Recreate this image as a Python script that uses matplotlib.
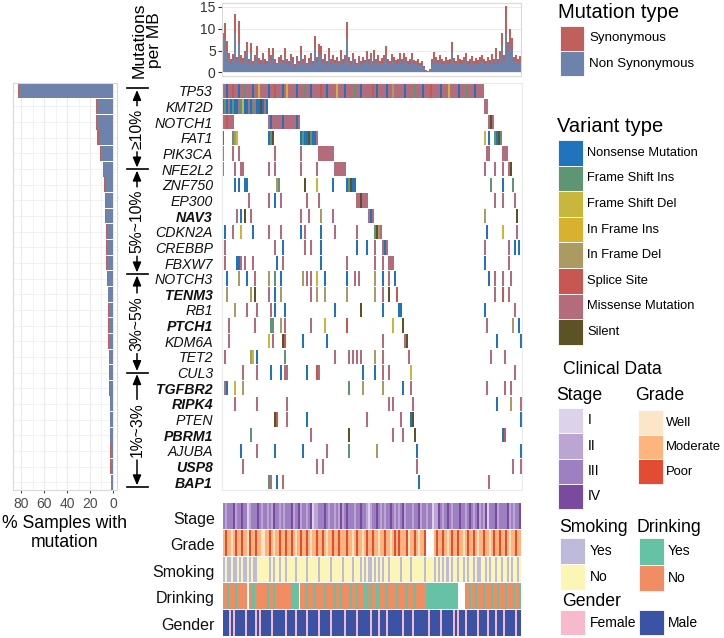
import numpy as np
import matplotlib
matplotlib.use("Agg")
import matplotlib.pyplot as plt
from matplotlib.patches import Rectangle

plt.rcParams['font.family'] = ['Liberation Sans', 'DejaVu Sans']

# ---------------- data ----------------
genes = ["TP53", "KMT2D", "NOTCH1", "FAT1", "PIK3CA", "NFE2L2", "ZNF750", "EP300",
         "NAV3", "CDKN2A", "CREBBP", "FBXW7", "NOTCH3", "TENM3", "RB1", "PTCH1",
         "KDM6A", "TET2", "CUL3", "TGFBR2", "RIPK4", "PTEN", "PBRM1", "AJUBA",
         "USP8", "BAP1"]
bold_genes = ["NAV3", "TENM3", "PTCH1", "TGFBR2", "RIPK4", "PBRM1", "USP8", "BAP1"]

variant_names = ["Nonsense Mutation", "Frame Shift Ins", "Frame Shift Del", "In Frame Ins",
                 "In Frame Del", "Splice Site", "Missense Mutation", "Silent"]
variant_codes = ["N", "I", "D", "i", "d", "S", "M", "L"]
variant_colors = ["#1F74BD", "#5E9675", "#C9B73C", "#D8B12E",
                  "#AB9A62", "#C65751", "#B46B7C", "#5D5126"]

tp53_types = ("MMNMMSMMNM" "MIMMMNMMDM" "MMMNMMSMMM" "NMiMMMMNMM" "MIMMNMMMMS"
              "MMNMMMMDMM" "MNMMMMIMMN" "MMMMMSMNMM" "MMNMMdMMMM" "MNMMMMIMMM"
              "NMMMSMMMMN" "MMMDMMMMNM" "MMIMMMNMMM" "M")

# per gene: (first sample index, variant codes of consecutive samples)
mutations = {
    "TP53": [(0, tp53_types)],
    "KMT2D": [(0, "NINMNINNMIDNNMNIMNNLNMN"), (131, "MM")],
    "NOTCH1": [(0, "MMSMMM"), (23, "MNMMMMMNMMMMMMNM"), (133, "MLM")],
    "FAT1": [(0, "N"), (5, "IdD"), (23, "NIL"), (39, "NINNLINNM"), (131, "D"), (133, "N"), (136, "INLI")],
    "PIK3CA": [(0, "M"), (5, "M"), (8, "M"), (26, "M"), (39, "M"), (48, "MMMMMMMM"), (132, "MM"), (140, "MMM")],
    "NFE2L2": [(0, "M"), (6, "M"), (9, "MM"), (23, "M"), (26, "M"), (39, "M"), (47, "M"), (56, "MMMMMM"),
               (131, "M"), (136, "M"), (140, "M"), (143, "ML")],
    "ZNF750": [(6, "N"), (8, "N"), (11, "NN"), (27, "dI"), (41, "L"), (47, "D"), (55, "N"), (62, "NILNN"),
               (134, "I"), (140, "N"), (145, "I")],
    "EP300": [(13, "M"), (23, "M"), (26, "N"), (29, "M"), (42, "M"), (48, "M"), (67, "MMLMMM"),
              (136, "M"), (140, "M"), (146, "M")],
    "NAV3": [(7, "M"), (9, "N"), (11, "L"), (14, "M"), (39, "M"), (43, "M"), (49, "d"), (55, "M"),
             (73, "MNM"), (131, "d"), (147, "L")],
    "CDKN2A": [(1, "N"), (5, "M"), (9, "D"), (15, "N"), (23, "M"), (29, "M"), (39, "N"), (41, "M"),
               (49, "N"), (56, "M"), (67, "M"), (76, "ILdM"), (132, "N"), (140, "i"), (147, "M")],
    "CREBBP": [(1, "M"), (26, "M"), (30, "N"), (41, "M"), (44, "M"), (49, "N"), (67, "N"), (72, "N"),
               (76, "M"), (80, "MNM"), (131, "M"), (143, "M"), (146, "N"), (148, "N")],
    "FBXW7": [(1, "M"), (7, "NN"), (9, "M"), (11, "M"), (15, "M"), (27, "N"), (30, "M"), (49, "N"),
              (62, "M"), (76, "M"), (80, "M"), (83, "MMM"), (131, "N"), (143, "M")],
    "NOTCH3": [(2, "N"), (8, "d"), (12, "N"), (16, "M"), (23, "d"), (26, "I"), (29, "N"), (40, "d"),
               (42, "M"), (44, "M"), (47, "D"), (51, "N"), (62, "N"), (66, "M"), (68, "M"), (76, "d"),
               (80, "N"), (83, "M"), (86, "N"), (133, "N"), (136, "M"), (140, "M"), (144, "M")],
    "TENM3": [(2, "d"), (14, "d"), (16, "L"), (23, "M"), (26, "N"), (29, "d"), (44, "M"), (47, "d"),
              (51, "d"), (62, "d"), (76, "d"), (80, "M"), (83, "L"), (87, "S"), (136, "M"), (140, "S"),
              (143, "M")],
    "RB1": [(6, "d"), (12, "M"), (17, "M"), (24, "M"), (26, "N"), (31, "N"), (56, "N"), (69, "L"),
            (80, "N"), (88, "NN"), (131, "N"), (146, "M")],
    "PTCH1": [(3, "M"), (16, "M"), (24, "II"), (29, "d"), (31, "M"), (44, "M"), (51, "D"), (62, "S"),
              (85, "D"), (90, "L"), (132, "M"), (145, "d"), (148, "N")],
    "KDM6A": [(3, "M"), (23, "D"), (25, "M"), (30, "LS"), (40, "N"), (52, "N"), (80, "M"), (91, "ML"),
              (137, "N"), (149, "N")],
    "TET2": [(1, "M"), (14, "dD"), (17, "N"), (31, "I"), (56, "M"), (63, "M"), (65, "M"), (67, "M"),
             (69, "M"), (76, "d"), (80, "M"), (93, "M"), (134, "M"), (141, "M")],
    "CUL3": [(10, "M"), (17, "M"), (24, "N"), (29, "N"), (31, "MM"), (42, "N"), (47, "SM"), (70, "N"),
             (76, "N"), (80, "M"), (83, "M"), (94, "D"), (146, "M")],
    "TGFBR2": [(1, "M"), (2, "N"), (6, "D"), (10, "d"), (63, "I"), (70, "d"), (80, "d"), (90, "N"),
               (94, "M"), (132, "M"), (141, "M"), (144, "M")],
    "RIPK4": [(6, "M"), (17, "M"), (32, "M"), (83, "M"), (85, "M"), (95, "M"), (137, "N"), (144, "d"),
              (149, "M")],
    "PTEN": [(26, "LS"), (32, "M"), (42, "N"), (72, "M"), (89, "M"), (94, "NL"), (149, "N")],
    "PBRM1": [(14, "I"), (44, "M"), (63, "L"), (85, "M"), (90, "M"), (96, "L"), (140, "NS")],
    "AJUBA": [(9, "N"), (17, "M"), (26, "N"), (40, "N"), (52, "M"), (63, "I"), (77, "d"), (97, "N"),
              (149, "N")],
    "USP8": [(10, "M"), (47, "M"), (50, "M"), (97, "M"), (145, "M"), (149, "M")],
    "BAP1": [(23, "I"), (24, "M"), (27, "N"), (30, "M"), (98, "N"), (133, "M")],
}

# mutations per MB per sample (stacked: non synonymous below, synonymous above)
tmb_nonsyn = [8.8, 7.6, 4.8, 3.0, 2.0, 2.8, 9.0, 2.3, 6.5, 2.7,
              2.1, 3.2, 4.6, 2.0, 4.4, 1.7, 2.6, 3.9, 2.1, 1.9,
              3.0, 2.0, 1.7, 3.6, 2.6, 3.7, 2.0, 1.5, 2.3, 2.6,
              1.9, 3.6, 2.0, 1.7, 2.8, 2.3, 1.3, 2.5, 1.7, 4.0,
              2.0, 2.6, 1.5, 2.1, 3.0, 1.7, 5.5, 2.3, 4.3, 3.9,
              2.0, 2.8, 1.7, 3.6, 2.0, 2.6, 1.9, 2.3, 1.7, 3.4,
              2.0, 2.6, 7.6, 2.3, 1.7, 3.0, 2.0, 1.5, 2.5, 1.7,
              2.3, 1.9, 3.3, 2.0, 3.0, 1.7, 3.4, 2.0, 2.6, 1.7,
              2.1, 2.6, 4.0, 2.0, 1.7, 2.8, 2.3, 1.9, 2.0, 3.0,
              2.0, 3.0, 2.3, 1.7, 2.0, 3.0, 1.9, 1.7, 2.0, 1.5,
              1.7, 1.0, 0.4, 0.3, 0.5, 2.0, 3.1, 2.3, 1.9, 2.6,
              2.0, 1.7, 2.3, 1.9, 2.0, 4.6, 2.1, 1.7, 2.6, 2.0,
              1.9, 2.3, 3.0, 1.7, 2.0, 2.5, 1.7, 2.1, 1.9, 2.3,
              2.6, 2.0, 1.7, 2.3, 1.9, 2.8, 2.0, 3.6, 2.0, 3.3,
              6.0, 2.6, 9.0, 4.6, 6.6, 5.1, 2.3, 2.6, 2.0, 2.5]
tmb_syn = [0.2, 3.7, 2.4, 1.5, 1.0, 1.4, 4.3, 1.2, 5.2, 1.3,
           1.1, 1.6, 2.4, 1.0, 2.4, 0.8, 1.4, 2.1, 1.1, 0.9,
           1.5, 1.0, 0.8, 1.9, 1.4, 1.9, 1.0, 0.7, 1.2, 1.4,
           0.9, 1.9, 1.0, 0.8, 1.4, 1.2, 0.7, 1.3, 0.8, 2.0,
           1.0, 1.4, 0.7, 1.1, 1.5, 0.8, 2.8, 1.2, 2.2, 2.1,
           1.0, 1.4, 0.8, 1.9, 1.0, 1.4, 0.9, 1.2, 0.8, 1.8,
           1.0, 1.4, 3.9, 1.2, 0.8, 1.5, 1.0, 0.7, 1.3, 0.8,
           1.2, 0.9, 1.7, 1.0, 1.5, 0.8, 1.8, 1.0, 1.4, 0.8,
           1.1, 1.4, 2.0, 1.0, 0.8, 1.4, 1.2, 0.9, 1.0, 1.5,
           1.0, 1.5, 1.2, 0.8, 1.0, 1.5, 0.9, 0.8, 1.0, 0.7,
           0.8, 0.5, 0.2, 0.1, 0.3, 1.0, 1.6, 1.2, 0.9, 1.4,
           1.0, 0.8, 1.2, 0.9, 1.0, 2.4, 1.1, 0.8, 1.4, 1.0,
           0.9, 1.2, 1.5, 0.8, 1.0, 1.3, 0.8, 1.1, 0.9, 1.2,
           1.4, 1.0, 0.8, 1.2, 0.9, 1.4, 1.0, 1.9, 1.0, 1.7,
           3.0, 1.4, 6.2, 2.4, 3.4, 2.7, 1.2, 1.4, 1.0, 1.3]

# % samples with mutation per gene
pct_nonsyn = [81.5, 13.5, 13.5, 12.5, 10.0, 8.0, 6.5, 6.0, 6.0, 5.5, 5.5, 5.0, 4.2,
              4.0, 3.8, 3.6, 3.4, 3.2, 3.0, 2.6, 2.4, 2.3, 2.2, 2.0, 1.8, 1.6]
pct_syn = [1.1, 1.5, 1.5, 1.5, 1.2, 1.0, 1.0, 1.0, 0.8, 0.8, 0.8, 0.7, 0.7,
           0.6, 0.6, 0.6, 0.5, 0.5, 0.5, 0.5, 0.5, 0.4, 0.4, 0.4, 0.4, 0.4]

mut_type_names = ["Synonymous", "Non Synonymous"]
mut_type_colors = ["#C1605B", "#6E83AC"]

stage = ("3233342334" "3312333432" "3323243323" "2333423342" "3323412233"
         "3432332324" "2343332334" "3321233432" "3233432323" "4233323342"
         "3323312243" "2334323334" "3323432342" "3241333423" "3334232334")
grade = ("MPMMWMPMMP" "MMWPMMPMMW" "WMMPMWMMPM" "MPMMPMWMMP" "MMPMWMMPMM"
         "PMWMMPMMPM" "MMPMMWMPMM" "WMPMMPMMWM" "MPMMWMPMPM" "MMPWMMPMWM"
         "MP....MPMM" "PMMWMPMMPM" "MWMPMMPMWM" "MPMMWMPMMP" "MMPMWMMPMM")
smoking = ("YNYYNYYNYN" "YYNYNYYNNN" "NNNYNYNNYN" "NYNNNNYNNN" "NNYNNNNNYN"
           "NNNNYNNNNN" "YNNNNYNNNY" "NYNYYNYNYN" "YNNYNNNNNY" "NNNNYNNNNN"
           "NYNNNNYNYN" "YNYYNYNNYN" "NYNYNNYNYY" "NNYNYNNYNN" "YNNYNYNNYN")
drinking = ("NNYNNNYNNN" "NN.NYYNNNN" "NNYNNYNNNN" "NNNNYYYY.N" "NNYNNNYNNN"
            "NYNNNNYNNY" "NNNNYNNYNN" "NYYNYNNYYN" "NNYNNNNYNN" "NNYNNNYNNN"
            "NNYYYYYYYY" "YYYYYYYY.." "..NNYNNYNN" "NYNNNYNNYN" "NNYNNNYNNY")
gender = ("MMMFMFMMMM" "MFMMMMFMFM" "MMMMFMMMMM" "MFMMMMFMMM" "MMFMMMMMFM"
          "MMMMFMMMMM" "MFMMMMMFMM" "MMMMFMMMFM" "MMFMMMMMMM" "FMMMMFMMMM"
          "MMMFMMMMMF" "MMMMMMFMFM" "MMFMMMMMFM" "MMMFMMMFMM" "MFMMMMMFMM")

clin_names = ["Stage", "Grade", "Smoking", "Drinking", "Gender"]
stage_levels = ["I", "II", "III", "IV"]
stage_colors = {"1": "#DCD2E9", "2": "#BBA5D2", "3": "#9D80C1", "4": "#7A4A9F"}
grade_levels = ["Well", "Moderate", "Poor"]
grade_colors = {"W": "#FDE5C7", "M": "#FDB47D", "P": "#E44B33"}
smoking_colors = {"Y": "#BEBBDA", "N": "#FBF6B5"}
drinking_colors = {"Y": "#66C2A5", "N": "#F28D63"}
gender_colors = {"F": "#F7B9CC", "M": "#3A53A4"}

group_labels = ["\u226510%", "5%~10%", "3%~5%", "1%~3%"]
group_bounds = [0.35, 5.5, 12.2, 18.5, 25.8]   # in gene-row units

# ---------------- figure ----------------
W, H = 724, 638
fig = plt.figure(figsize=(W / 100, H / 100), dpi=100)


def px_axes(x0, y0, x1, y1):
    return fig.add_axes([x0 / W, 1 - y1 / H, (x1 - x0) / W, (y1 - y0) / H])


ov = px_axes(0, 0, W, H)
ov.set_xlim(0, W)
ov.set_ylim(H, 0)
ov.axis('off')

nS = len(tmb_nonsyn)
ng = len(genes)
vcol = dict(zip(variant_codes, variant_colors))
grid_c = "#EBEBEB"
frame_c = "#D9D9D9"
tick_c = "#333333"

# ---- top: mutations per MB ----
axt = px_axes(222, 3, 521, 76)
xs = np.arange(nS)
axt.bar(xs, tmb_nonsyn, width=1.0, align='edge', color=mut_type_colors[1], lw=0, zorder=2)
axt.bar(xs, tmb_syn, bottom=tmb_nonsyn, width=1.0, align='edge', color=mut_type_colors[0], lw=0, zorder=2)
axt.set_xlim(0, nS)
axt.set_ylim(-0.85, 15.9)
axt.set_yticks([0, 5, 10, 15])
axt.set_xticks([])
axt.grid(axis='y', color=grid_c, lw=0.8, zorder=0)
axt.tick_params(axis='y', labelsize=10, colors=tick_c, length=3, pad=1.5, width=0.8)
for sp in axt.spines.values():
    sp.set_color(frame_c)
    sp.set_linewidth(0.8)

# ---- oncoprint matrix ----
axm = px_axes(222, 83, 522, 490)
mx, my, mc = [], [], []
for r, g in enumerate(genes):
    for start, codes in mutations[g]:
        for k, ch in enumerate(codes):
            mx.append(start + k + 0.07)
            my.append(r + 0.04)
            mc.append(vcol[ch])
axm.bar(mx, 0.92, width=0.86, bottom=my, align='edge', color=mc, lw=0)
axm.set_xlim(0, nS)
axm.set_ylim(ng, 0)
axm.set_xticks([])
axm.set_yticks(np.arange(ng) + 0.5)
axm.set_yticklabels(genes)
for lab in axm.get_yticklabels():
    lab.set_fontstyle('italic')
    lab.set_fontsize(10.2)
    if lab.get_text() in bold_genes:
        lab.set_fontweight('bold')
axm.tick_params(axis='y', length=0, pad=6.5, colors='#111111')
for sp in axm.spines.values():
    sp.set_color(grid_c)
    sp.set_linewidth(0.8)

# ---- left: % samples with mutation ----
axl = px_axes(13, 83, 117, 490)
yrow = np.arange(ng) + 0.5
axl.barh(yrow, pct_nonsyn, height=0.95, color=mut_type_colors[1], lw=0, zorder=2)
axl.barh(yrow, pct_syn, left=pct_nonsyn, height=0.95, color=mut_type_colors[0], lw=0, zorder=2)
axl.set_xlim(87, -3.5)
axl.set_ylim(ng, 0)
axl.set_xticks([80, 60, 40, 20, 0])
axl.set_xticks([70, 50, 30, 10], minor=True)
axl.set_yticks(yrow)
axl.set_yticklabels([])
axl.tick_params(axis='y', length=0)
axl.tick_params(axis='x', which='major', labelsize=10, colors='#4D4D4D', length=2, pad=3)
axl.tick_params(axis='x', which='minor', length=0)
axl.grid(axis='x', which='major', color=grid_c, lw=0.8, zorder=0)
axl.grid(axis='x', which='minor', color=grid_c, lw=0.4, zorder=0)
axl.grid(axis='y', color=grid_c, lw=0.5, zorder=0)
for sp in axl.spines.values():
    sp.set_color(frame_c)
    sp.set_linewidth(0.8)

# ---- clinical tracks ----
axc = px_axes(223, 503, 521, 636)
clin_tracks = [(stage, stage_colors), (grade, grade_colors), (smoking, smoking_colors),
               (drinking, drinking_colors), (gender, gender_colors)]
for t, (vals, cmap) in enumerate(clin_tracks):
    cx = [i for i, v in enumerate(vals) if v in cmap]
    cc = [cmap[vals[i]] for i in cx]
    axc.bar(cx, 0.97, width=1.06, bottom=t + 0.015, align='edge', color=cc, lw=0)
axc.set_xlim(0, nS)
axc.set_ylim(len(clin_tracks), 0)
axc.set_xticks([])
axc.set_yticks(np.arange(len(clin_tracks)) + 0.55)
axc.set_yticklabels(clin_names, fontsize=11.5)
axc.tick_params(axis='y', length=0, pad=6, colors='#111111')
for sp in axc.spines.values():
    sp.set_visible(False)

# ---- overlay annotations ----
ov.text(147, 40, "Mutations\nper MB", rotation=90, ha='center', va='center',
        fontsize=12.5, linespacing=1.05, multialignment='center')
ov.text(65, 533, "% Samples with\nmutation", ha='center', va='center', fontsize=12.7,
        linespacing=1.15, multialignment='center')


def row_px(r):
    return 83 + r * 407 / ng


bpx = [row_px(b) for b in group_bounds]
for y in bpx:
    ov.plot([127, 148], [y, y], color='black', lw=1.2)
gtexts = []
for i, lab in enumerate(group_labels):
    yc = (bpx[i] + bpx[i + 1]) / 2
    gtexts.append((ov.text(137, yc, lab, rotation=90, ha='center', va='center', fontsize=11.3), i, yc))
fig.canvas.draw()
inv = ov.transData.inverted()
for t, i, yc in gtexts:
    bb = t.get_window_extent()
    (_, ya), (_, yb) = inv.transform([(bb.x0, bb.y0), (bb.x1, bb.y1)])
    half = abs(ya - yb) / 2
    arrow = dict(arrowstyle='-|>,head_length=0.6,head_width=0.25', lw=1.1, color='black',
                 shrinkA=0, shrinkB=0, mutation_scale=10)
    ov.annotate('', xy=(137, bpx[i] + 1.5), xytext=(137, yc - half - 3), arrowprops=arrow)
    ov.annotate('', xy=(137, bpx[i + 1] - 1.5), xytext=(137, yc + half + 3), arrowprops=arrow)


def box(x, y, w, h, c):
    ov.add_patch(Rectangle((x, y), w, h, facecolor=c, edgecolor='white', lw=0.6))


# Mutation type legend
ov.text(558, 12, "Mutation type", ha='left', va='center', fontsize=14.5)
for k, (nm, c) in enumerate(zip(mut_type_names, mut_type_colors)):
    box(560, 26 + 25 * k, 24, 25, c)
    ov.text(589, 38.5 + 25 * k, nm, ha='left', va='center', fontsize=9.6)

# Variant type legend
ov.text(557, 127, "Variant type", ha='left', va='center', fontsize=14.5)
for k, (nm, c) in enumerate(zip(variant_names, variant_colors)):
    box(558, 140 + 25.6 * k, 25, 25.6, c)
    ov.text(587, 152.8 + 25.6 * k, nm, ha='left', va='center', fontsize=9.3)

# Clinical legend
ov.text(612, 370, "Clinical Data", ha='center', va='center', fontsize=12.7)
ov.text(556, 395, "Stage", ha='left', va='center', fontsize=12.7)
for k, lv in enumerate(stage_levels):
    box(558, 408 + 25.3 * k, 25, 25.3, stage_colors[str(k + 1)])
    ov.text(588, 420.5 + 25.3 * k, lv, ha='left', va='center', fontsize=10)
ov.text(635, 395, "Grade", ha='left', va='center', fontsize=12.7)
for k, lv in enumerate(grade_levels):
    box(638, 410 + 24.7 * k, 25, 24.7, grade_colors[lv[0]])
    ov.text(666, 422.5 + 24.7 * k, lv, ha='left', va='center', fontsize=9.4)
ov.text(559, 527, "Smoking", ha='left', va='center', fontsize=12.7)
ov.text(636, 527, "Drinking", ha='left', va='center', fontsize=12.7)
for k, lv in enumerate(["Yes", "No"]):
    box(560, 538 + 26 * k, 25, 26, smoking_colors[lv[0]])
    ov.text(590, 551 + 26 * k, lv, ha='left', va='center', fontsize=10)
    box(639, 538 + 26.5 * k, 25, 26.5, drinking_colors[lv[0]])
    ov.text(668, 551 + 26.5 * k, lv, ha='left', va='center', fontsize=10)
ov.text(562, 602, "Gender", ha='left', va='center', fontsize=12.7)
box(560, 610, 25, 25, gender_colors["F"])
ov.text(590, 623, "Female", ha='left', va='center', fontsize=10)
box(639, 610, 25, 25, gender_colors["M"])
ov.text(668, 623, "Male", ha='left', va='center', fontsize=10)

fig.savefig("out.png", dpi=100)
